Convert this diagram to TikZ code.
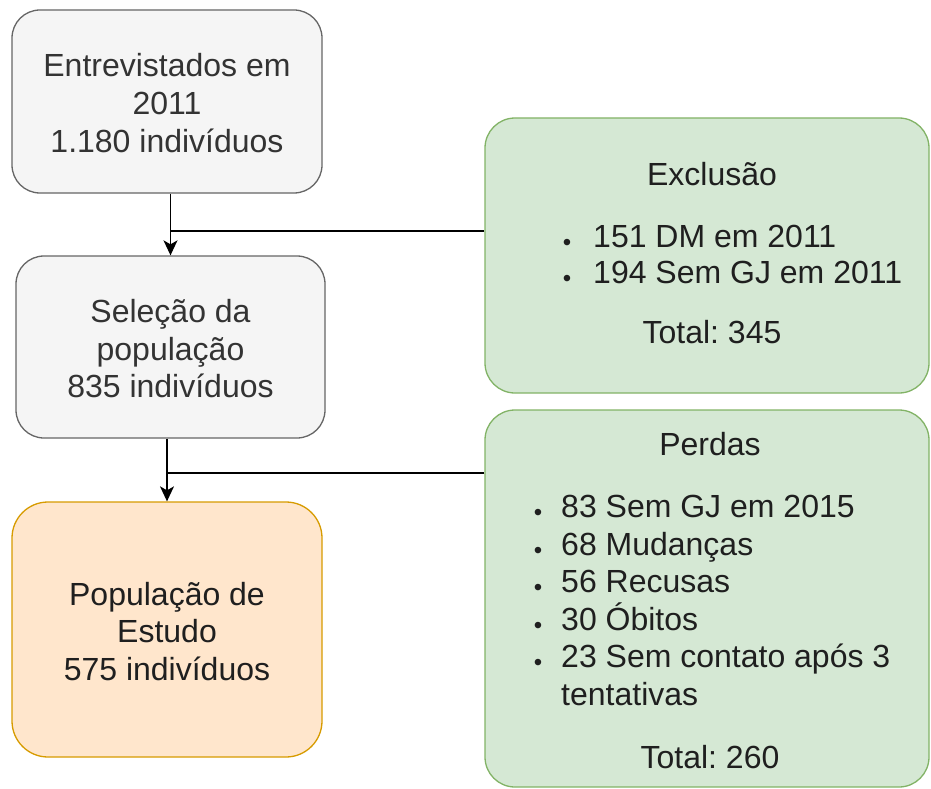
\documentclass[tikz,border=0pt]{standalone}
\usepackage{fontspec}
\setmainfont{Liberation Sans}
\usetikzlibrary{arrows.meta}
\definecolor{grayfill}{HTML}{F5F5F5}
\definecolor{graydraw}{HTML}{666666}
\definecolor{graytext}{HTML}{333333}
\definecolor{greenfill}{HTML}{D5E8D4}
\definecolor{greendraw}{HTML}{82B366}
\definecolor{orangefill}{HTML}{FFE6CC}
\definecolor{orangedraw}{HTML}{D79B00}
\newcommand\bdot{\makebox[0pt]{\raisebox{-3pt}{\fontsize{24}{24}\selectfont •}}}
\frenchspacing
\begin{document}
\begin{tikzpicture}[x=1pt,y=-1pt,
  box/.style={draw, rounded corners=28pt, line width=1.3pt, inner sep=0pt},
  graybox/.style={box, fill=grayfill, draw=graydraw},
  greenbox/.style={box, fill=greenfill, draw=greendraw, rounded corners=30pt},
  orangebox/.style={box, fill=orangefill, draw=orangedraw, rounded corners=36pt},
  txt/.style={font=\fontsize{32}{37.5}\selectfont, anchor=base, inner sep=0pt, text=black!88},
  graytxt/.style={txt, text=graytext},
  ltxt/.style={txt, anchor=base west},
  conn/.style={draw=black, line width=1.4pt},
  arr/.style={conn, -{Stealth[length=15pt,width=14pt,inset=4pt]}}
  ]
\useasboundingbox (0,0) rectangle (931,789);
% left column
\node[graybox, minimum width=310pt, minimum height=183pt] (b1) at (167,101.5) {};
\node[graybox, minimum width=309pt, minimum height=182pt] (b2) at (170.5,347) {};
\node[orangebox, minimum width=310pt, minimum height=255pt] (b3) at (167,629.5) {};
% right column
\node[greenbox, minimum width=444pt, minimum height=275pt] (g1) at (707,255.5) {};
\node[greenbox, minimum width=444pt, minimum height=377pt] (g2) at (707,598.5) {};

% texts box 1
\node[graytxt] (t1a) at (167,77) {Entrevistados em};
\node[graytxt] (t1b) at (167,114.5) {2011};
\node[graytxt] (t1c) at (167,152) {1.180 indivíduos};
% texts box 2
\node[graytxt] (t2a) at (170.5,322.5) {Seleção da};
\node[graytxt] (t2b) at (170.5,360) {população};
\node[graytxt] (t2c) at (170.5,397.5) {835 indivíduos};
% texts box 3
\node[txt] (t3a) at (167,605) {População de};
\node[txt] (t3b) at (167,642.5) {Estudo};
\node[txt] (t3c) at (167,680) {575 indivíduos};

% green box 1
\node[txt] (e0) at (712,185) {Exclusão};
\node[txt] (e1d) at (567,247) {\bdot};
\node[ltxt] (e1) at (593,247) {151 DM em 2011};
\node[txt] (e2d) at (567,283.5) {\bdot};
\node[ltxt] (e2) at (593,283.5) {194 Sem GJ em 2011};
\node[txt] (e3) at (712,343) {Total: 345};

% green box 2
\node[txt] (p0) at (710,455) {Perdas};
\node[txt] (p1d) at (538,517) {\bdot};
\node[ltxt] (p1) at (561,517) {83 Sem GJ em 2015};
\node[txt] (p2d) at (538,555) {\bdot};
\node[ltxt] (p2) at (561,555) {68 Mudanças};
\node[txt] (p3d) at (538,592.5) {\bdot};
\node[ltxt] (p3) at (561,592.5) {56 Recusas};
\node[txt] (p4d) at (538,630) {\bdot};
\node[ltxt] (p4) at (561,630) {30 Óbitos};
\node[txt] (p5d) at (538,667.5) {\bdot};
\node[ltxt] (p5) at (561,667.5) {23 Sem contato após 3};
\node[ltxt] (p6) at (561,705) {tentativas};
\node[txt] (p7) at (710,768) {Total: 260};

% connectors
\coordinate (j1) at (170.5,231);
\coordinate (j2) at (167,473);
\draw[arr] (b1.south -| b2.north) -- (b2.north);
\draw[conn] (g1.west |- j1) -- (j1);
\draw[arr] (b2.south -| b3.north) -- (b3.north);
\draw[conn] (g2.west |- j2) -- (j2);
\end{tikzpicture}
\end{document}
